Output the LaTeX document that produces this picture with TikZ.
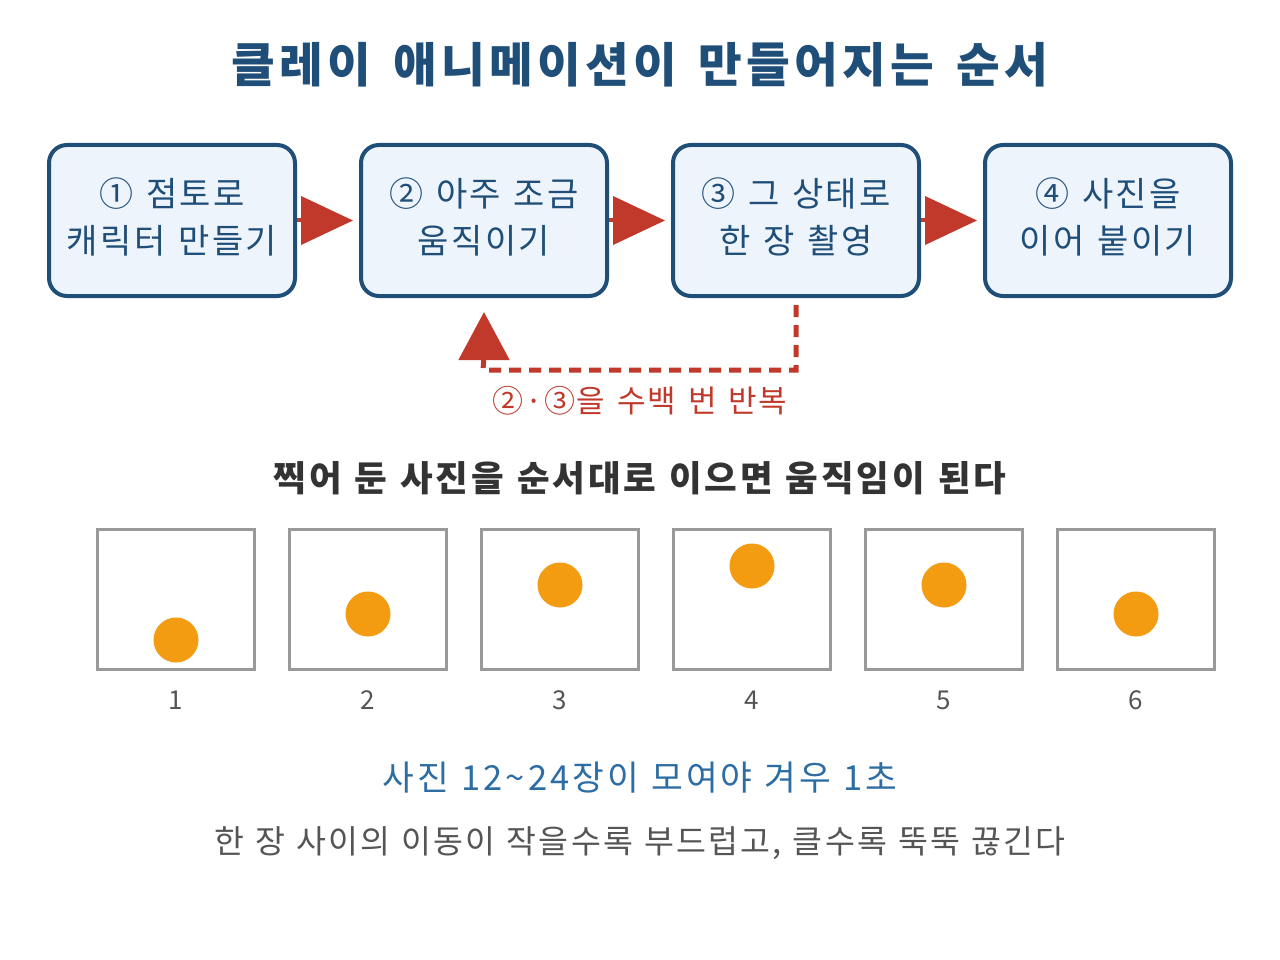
\documentclass[tikz,border=0pt]{standalone}
\usepackage{fontspec}
\setmainfont{Noto Sans CJK KR}
\usetikzlibrary{arrows.meta}
\definecolor{navy}{HTML}{1F4E79}
\definecolor{boxfill}{HTML}{EEF4FB}
\definecolor{redc}{HTML}{C0392B}
\definecolor{orangec}{HTML}{F39C12}
\definecolor{framec}{HTML}{999999}
\definecolor{darkt}{HTML}{333333}
\definecolor{midt}{HTML}{555555}
\definecolor{bluet}{HTML}{2E6DA4}
\newcommand{\wsp}[1]{\spaceskip=#1\relax}
\newcommand{\lsp}[1]{\addfontfeature{LetterSpace=#1}}
\tikzset{
  stepbox/.style={draw=navy, fill=boxfill, line width=4pt, rounded corners=18pt,
    minimum width=246pt, minimum height=151pt, inner sep=0pt, align=center,
    text=navy, font=\fontsize{34}{47}\selectfont\lsp{7}\wsp{13pt}},
  bigarrow/.style={draw=redc, line width=4pt, -{Triangle[length=52pt,width=48pt]}, shorten >=6pt},
  looparrow/.style={draw=redc, line width=5pt, dash pattern=on 12pt off 8pt},
  framebox/.style={draw=framec, line width=3pt, minimum width=157pt, minimum height=140pt, inner sep=0pt},
  ball/.style={circle, fill=orangec, minimum size=45pt, inner sep=0pt},
  fnum/.style={text=midt, font=\fontsize{26}{30}\selectfont},
}
\begin{document}
\begin{tikzpicture}[x=1pt,y=-1pt]
\useasboundingbox[fill=white] (0,0) rectangle (1280,960);
\node[text=navy, font=\fontsize{47.5}{52}\selectfont\bfseries\lsp{9}\wsp{22pt}] (title) at (640,65) {클레이 애니메이션이 만들어지는 순서};

\node[stepbox] (b1) at (172,220.5) {\raisebox{9pt}{① 점토로}\\\raisebox{9pt}{캐릭터 만들기}};
\node[stepbox] (b2) at (484,220.5) {\raisebox{9pt}{② 아주 조금}\\\raisebox{9pt}{움직이기}};
\node[stepbox] (b3) at (796,220.5) {\raisebox{9pt}{③ 그 상태로}\\\raisebox{9pt}{한 장 촬영}};
\node[stepbox] (b4) at (1108,220.5) {\raisebox{9pt}{④ 사진을}\\\raisebox{9pt}{이어 붙이기}};

\draw[bigarrow] (b1.east) -- (b2.west);
\draw[bigarrow] (b2.east) -- (b3.west);
\draw[bigarrow] (b3.east) -- (b4.west);

\coordinate (ls) at ([yshift=-7pt]b3.south);
\coordinate (lc) at (483,370);
\coordinate (lt) at ([yshift=-14pt]b2.south);
\coordinate (lb) at ([yshift=-58pt]b2.south);
\draw[looparrow] (ls) |- (lc) -- (lb);
\draw[redc, line width=5pt, -{Triangle[length=48pt,width=50pt]}] (lb) -- (lt);
\node[text=redc, font=\fontsize{31}{36}\selectfont\lsp{5}\wsp{12pt}] (loopl) at (640,401) {②·③을 수백 번 반복};

\node[text=darkt, font=\fontsize{35.5}{40}\selectfont\bfseries\lsp{8}\wsp{13pt}] (sub) at (640,478) {찍어 둔 사진을 순서대로 이으면 움직임이 된다};

\foreach \i/\by in {1/640,2/614,3/585,4/566,5/585,6/614}{
  \node[framebox] (f\i) at ({176+192*(\i-1)},599.5) {};
  \node[ball] (c\i) at ({176+192*(\i-1)},\by) {};
  \node[fnum] (n\i) at ({176+192*(\i-1)},700) {\i};
}

\node[text=bluet, font=\fontsize{34.5}{40}\selectfont\lsp{9}\wsp{12pt}] (note1) at (640,778) {사진 12\textasciitilde24장이 모여야 겨우 1초};
\node[text=midt, font=\fontsize{32.5}{36}\selectfont\lsp{7}\wsp{11pt}] (note2) at (640,843) {한 장 사이의 이동이 작을수록 부드럽고, 클수록 뚝뚝 끊긴다};
\end{tikzpicture}
\end{document}
